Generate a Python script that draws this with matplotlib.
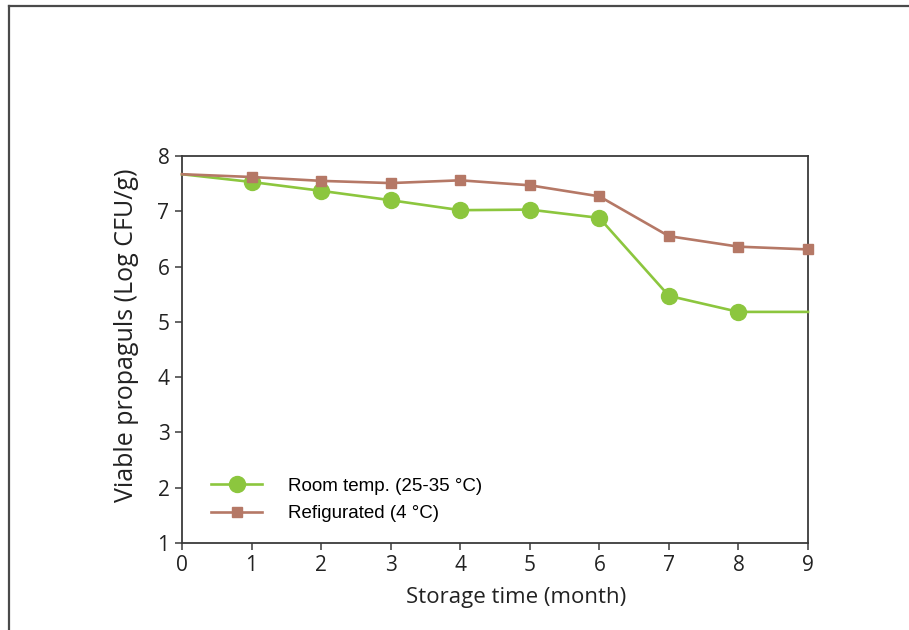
import matplotlib.pyplot as plt
from matplotlib.lines import Line2D

# storage time in months
months = [0, 1, 2, 3, 4, 5, 6, 7, 8, 9]

# viable propagules (log CFU/g)
room_temp = [7.67, 7.53, 7.37, 7.20, 7.02, 7.03, 6.88, 5.47, 5.18, 5.18]
refrigerated = [7.67, 7.62, 7.55, 7.51, 7.56, 7.47, 7.27, 6.55, 6.36, 6.31]

green = '#8cc63e'
brown = '#b57866'
axis_col = '#3a3a3a'

fig = plt.figure(figsize=(9.09, 6.3), dpi=100, facecolor='white')
ax = fig.add_axes([0.2002, 0.1381, 0.6887, 0.6143])

# outer frame, only top and left edges show in the original
fig.add_artist(Line2D([0.0099, 0.0099], [0.0, 0.9905], transform=fig.transFigure,
                      color='#4a4a4a', lw=1.6))
fig.add_artist(Line2D([0.0099, 1.0], [0.9905, 0.9905], transform=fig.transFigure,
                      color='#4a4a4a', lw=1.6))

# lines (no marker at the first point, room temp also none at the last)
ax.plot(months, room_temp, color=green, lw=1.9, marker='o', markersize=11.5,
        markevery=list(range(1, 9)), clip_on=False, zorder=3)
ax.plot(months, refrigerated, color=brown, lw=1.9, marker='s', markersize=6.5,
        markevery=list(range(1, 10)), clip_on=False, zorder=3)

ax.set_xlim(0, 9)
ax.set_ylim(1, 8)
ax.set_xticks(months)
ax.set_yticks(range(1, 9))

for s in ax.spines.values():
    s.set_color(axis_col)
    s.set_linewidth(1.3)

ax.tick_params(axis='both', direction='out', length=5, width=1.1, color=axis_col,
               labelsize=15, labelcolor='#222222', pad=4)
for lab in ax.get_xticklabels() + ax.get_yticklabels():
    lab.set_family('Open Sans')

ax.set_xlabel('Storage time (month)', fontsize=16, family='Open Sans',
              color='#222222')
ax.set_ylabel('Viable propaguls (Log CFU/g)', fontsize=18, family='Open Sans',
              color='#222222')
ax.xaxis.set_label_coords(0.534, -0.113)
ax.yaxis.set_label_coords(-0.068, 0.537)

handles = [
    Line2D([], [], color=green, lw=1.9, marker='o', markersize=11.5),
    Line2D([], [], color=brown, lw=1.9, marker='s', markersize=6.5),
]
ax.legend(handles, ['Room temp. (25-35 \u00b0C)', 'Refigurated (4 \u00b0C)'],
          loc='lower left', bbox_to_anchor=(0.02, 0.01), frameon=False,
          prop={'family': 'Liberation Sans', 'size': 13.5},
          handlelength=2.7, handletextpad=1.4, labelspacing=0.55)

fig.savefig('out.png', dpi=100)
